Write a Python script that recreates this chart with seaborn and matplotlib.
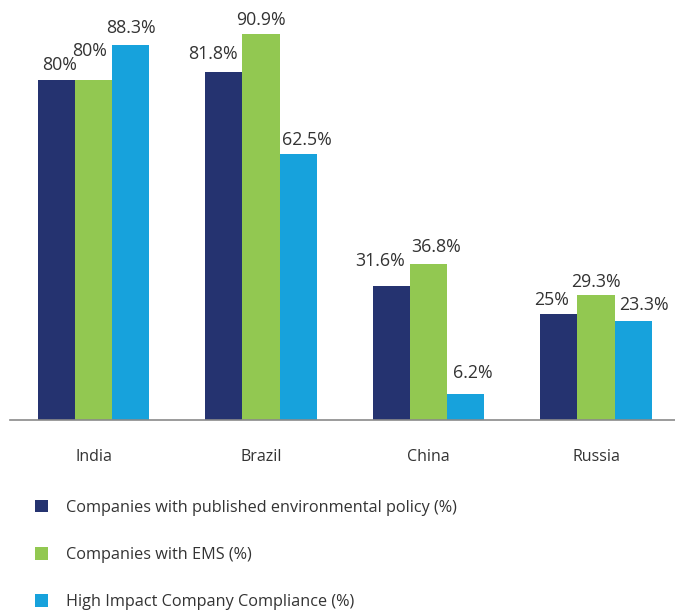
import matplotlib
matplotlib.use("Agg")
import matplotlib.pyplot as plt
from matplotlib.patches import Patch
import seaborn as sns
import pandas as pd

countries = ["India", "Brazil", "China", "Russia"]
series = ["Companies with published environmental policy (%)",
          "Companies with EMS (%)",
          "High Impact Company Compliance (%)"]
policy = [80, 81.8, 31.6, 25]
ems = [80, 90.9, 36.8, 29.3]
compliance = [88.3, 62.5, 6.2, 23.3]
colors = ["#253370", "#92c851", "#17a2dc"]

# label nudges (pixels) to mimic the reference's hand-placed labels
label_dx = [[3, -11, -11, -7], [-4, 0, 8, 0], [0, 9, 7, 11]]
label_gap = [[8, 12, 18, 7], [22, 7, 10, 7], [10, 8, 14, 9]]

rows = []
for s, vals in zip(series, [policy, ems, compliance]):
    for c, v in zip(countries, vals):
        rows.append({"country": c, "series": s, "value": v})
df = pd.DataFrame(rows)

sns.set_style("white")
plt.rcParams["font.family"] = ["Open Sans", "DejaVu Sans"]

W, H = 675, 613
fig = plt.figure(figsize=(W / 100, H / 100), dpi=100)
ax = fig.add_axes([9.75 / W, (H - 420) / H, 670 / W, 420 / H])

sns.barplot(data=df, x="country", y="value", hue="series", palette=colors,
            hue_order=series, order=countries, width=0.663, saturation=1,
            ax=ax, legend=False, edgecolor="none")

for si, cont in enumerate(ax.containers):
    for ci, (bar, v) in enumerate(zip(cont, cont.datavalues)):
        x = bar.get_x() + bar.get_width() / 2
        ax.annotate(f"{v:g}%", (x, v),
                    xytext=(label_dx[si][ci] * 0.72,
                            (label_gap[si][ci] - 2.4) * 0.72),
                    textcoords="offset points", ha="center", va="bottom",
                    fontsize=12.8, color="#333333", annotation_clip=False)

ax.set_xlim(-0.5, 3.5)
ax.set_ylim(0, 420 / 4.25)
ax.set_xlabel("")
ax.set_ylabel("")
ax.set_yticks([])
for s in ["top", "right", "left"]:
    ax.spines[s].set_visible(False)
ax.spines["bottom"].set_color("#8a8a8a")
ax.spines["bottom"].set_linewidth(1.2)
ax.set_xticks(range(4))
ax.set_xticklabels(countries, fontsize=11.5, color="#333333")
ax.tick_params(axis="x", which="major", length=0, pad=21)
ax.set_xticks([-0.5, 0.5, 1.5, 2.5, 3.5], minor=True)
ax.tick_params(axis="x", which="minor", length=7, width=1.2, color="#8a8a8a",
               direction="out")

handles = [Patch(facecolor=c, edgecolor="none") for c in colors]
fig.legend(handles, series, loc="upper left",
           bbox_to_anchor=(20 / W, 1 - 485 / H), frameon=False,
           fontsize=11.7, handlelength=0.8, handleheight=0.8,
           handletextpad=1.1, labelspacing=1.93, labelcolor="#333333")

fig.savefig("out.png", dpi=100)
